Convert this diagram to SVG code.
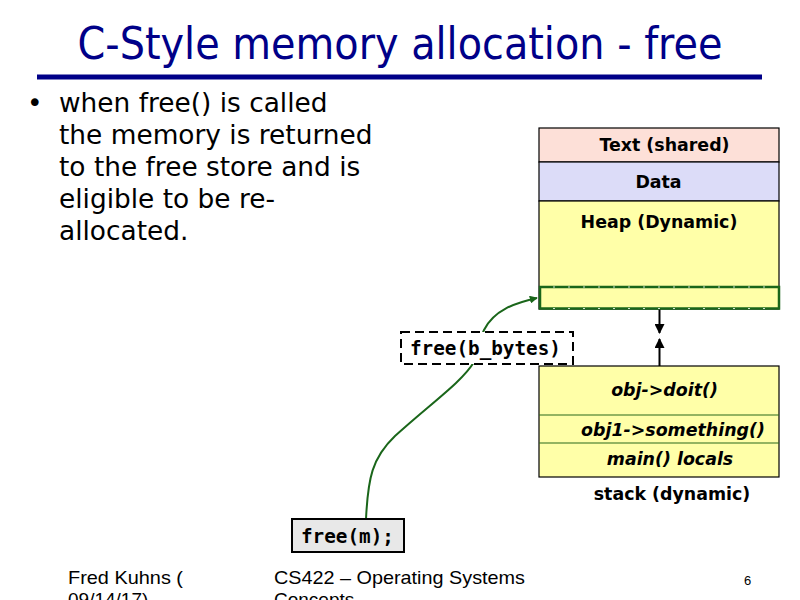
<svg xmlns="http://www.w3.org/2000/svg" width="800" height="600" viewBox="0 0 800 600">
<defs>
<style>
.title{font-family:"DejaVu Sans Condensed","DejaVu Sans",sans-serif;font-size:44px;fill:#000088}
.body{font-family:"DejaVu Sans",sans-serif;font-size:26.4px;fill:#000}
.lbl{font-family:"DejaVu Sans",sans-serif;font-size:17.4px;font-weight:bold;fill:#000;text-anchor:middle}
.ital{font-style:italic}
.mono{font-family:"DejaVu Sans Mono",monospace;font-size:19.3px;font-weight:bold;fill:#000}
.foot{font-family:"Liberation Sans Narrow","Liberation Sans",sans-serif;font-size:19px;fill:#000}
.seg{stroke:#000;stroke-width:1.2}
.div{stroke:#2a6a1a;stroke-width:1.2}
.conn{fill:none;stroke:#1a661a;stroke-width:2}
.blk{fill:none;stroke:#000;stroke-width:2}
</style>
<marker id="ag" viewBox="0 0 10 10" refX="9" refY="5" markerWidth="4" markerHeight="4" orient="auto" markerUnits="strokeWidth">
<path d="M0,0 L10,5 L0,10 z" fill="#1a661a"/>
</marker>
<marker id="ab" viewBox="0 0 10 10" refX="9" refY="5" markerWidth="5" markerHeight="5" orient="auto" markerUnits="strokeWidth">
<path d="M0,0 L10,5 L0,10 z" fill="#000"/>
</marker>
</defs>
<rect width="800" height="600" fill="#fff"/>
<g id="title">
<text class="title" x="400" y="59" text-anchor="middle" textLength="645" lengthAdjust="spacingAndGlyphs">C-Style memory allocation - free</text>
<rect x="37" y="74.5" width="725" height="5" fill="#000088"/>
</g>
<g id="bullet">
<text class="body" x="27" y="112">•</text>
<text class="body" x="59" y="112">when free() is called</text>
<text class="body" x="59" y="144">the memory is returned</text>
<text class="body" x="59" y="176">to the free store and is</text>
<text class="body" x="59" y="208">eligible to be re-</text>
<text class="body" x="59" y="240">allocated.</text>
</g>
<g id="connectors">
<path class="conn" d="M366,519 C368,478 372,458 395,436 C430,404 462,382 474,362 C481,350 480,338 484,330 C494,310 515,303 537,298" marker-end="url(#ag)"/>
<line x1="659.5" y1="309" x2="659.5" y2="333" stroke="#000" stroke-width="2" marker-end="url(#ab)"/>
<line x1="659.5" y1="367" x2="659.5" y2="339" stroke="#000" stroke-width="2" marker-end="url(#ab)"/>
</g>
<g id="memory">
<rect x="539" y="128" width="240" height="34" fill="#fde0d8" class="seg"/>
<rect x="539" y="162" width="240" height="39" fill="#dcdcf8" class="seg"/>
<rect x="539" y="201" width="240" height="108" fill="#ffffa8" class="seg"/>
<text class="lbl" x="664.5" y="151">Text (shared)</text>
<text class="lbl" x="658.5" y="188">Data</text>
<text class="lbl" x="659" y="228">Heap (Dynamic)</text>
</g>
<g id="freed-block">
<rect x="540" y="287" width="239" height="21.5" fill="#ffffa8" stroke="#1a661a" stroke-width="2.5"/>
<line x1="541" y1="287" x2="778" y2="287" stroke="#fff" stroke-width="0.8" stroke-dasharray="2 13" stroke-dashoffset="-12"/>
<line x1="541" y1="308.5" x2="778" y2="308.5" stroke="#fff" stroke-width="0.8" stroke-dasharray="2 13" stroke-dashoffset="-12"/>
</g>
<g id="free-b-bytes">
<rect x="401" y="332" width="172" height="32" fill="#fff" stroke="#000" stroke-width="2" stroke-dasharray="9 5"/>
<text class="mono" x="410" y="355">free(b_bytes)</text>
</g>
<g id="stack">
<rect x="539" y="366" width="240" height="111" fill="#ffffa8" class="seg"/>
<line x1="539" y1="415" x2="779" y2="415" class="div"/>
<line x1="539" y1="443" x2="779" y2="443" class="div"/>
<text class="lbl ital" x="664.5" y="396">obj-&gt;doit()</text>
<text class="lbl ital" x="673" y="436">obj1-&gt;something()</text>
<text class="lbl ital" x="670" y="465">main() locals</text>
<text class="lbl" x="672" y="500">stack (dynamic)</text>
</g>
<g id="free-m">
<rect x="292" y="519" width="112" height="33" fill="#e8e8e8" stroke="#000" stroke-width="2"/>
<text class="mono" x="301" y="543">free(m);</text>
</g>
<g id="footer">
<text class="foot" x="68" y="584" textLength="115" lengthAdjust="spacingAndGlyphs">Fred Kuhns (</text>
<text class="foot" x="68" y="606">09/14/17)</text>
<text class="foot" x="274" y="584" textLength="251" lengthAdjust="spacingAndGlyphs">CS422 – Operating Systems</text>
<text class="foot" x="274" y="606">Concepts</text>
<text class="foot" x="744" y="585" style="font-size:13px">6</text>
</g>
</svg>
